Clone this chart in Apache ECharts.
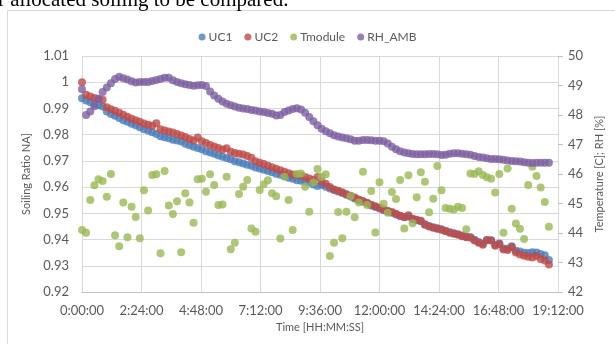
<!DOCTYPE html>
<html>
<head>
<meta charset="utf-8">
<script src="https://cdn.jsdelivr.net/npm/echarts@6/dist/echarts.min.js"></script>
<style>
  html, body { margin: 0; padding: 0; background: #fff; }
  #chart { width: 615px; height: 344px; }
</style>
</head>
<body>
<div id="chart"></div>
<script>
var chartDom = document.getElementById('chart');
var myChart = echarts.init(chartDom);

// 10-minute samples, values
var uc1 = [0.9939,0.9930,0.9924,0.9917,0.9912,0.9907,0.9888,0.9879,0.9872,0.9864,
  0.9855,0.9849,0.9842,0.9836,0.9828,0.9821,0.9816,0.9809,0.9803,0.9794,
  0.9790,0.9786,0.9781,0.9778,0.9774,0.9765,0.9760,0.9754,0.9749,0.9744,
  0.9737,0.9732,0.9727,0.9721,0.9716,0.9711,0.9706,0.9699,0.9695,0.9690,
  0.9685,0.9681,0.9675,0.9671,0.9666,0.9661,0.9657,0.9651,0.9647,0.9642,
  0.9636,0.9632,0.9626,0.9624,0.9621,0.9618,0.9610,0.9604,0.9608,0.9601,
  0.9595,0.9589,0.9583,0.9578,0.9571,0.9564,0.9557,0.9550,0.9544,0.9538,
  0.9530,0.9524,0.9518,0.9512,0.9507,0.9502,0.9496,0.9490,0.9485,0.9488,
  0.9478,0.9474,0.9470,0.9458,0.9452,0.9447,0.9443,0.9439,0.9434,0.9428,
  0.9424,0.9420,0.9415,0.9411,0.9409,0.9399,0.9391,0.9384,0.9398,0.9397,
  0.9380,0.9385,0.9366,0.9365,0.9374,0.9357,0.9354,0.9350,0.9349,0.9352,
  0.9351,0.9345,0.9340,0.9322];
var uc2 = [1.0000,0.9952,0.9946,0.9940,0.9936,0.9933,0.9905,0.9897,0.9891,0.9884,
  0.9876,0.9868,0.9861,0.9855,0.9849,0.9843,0.9838,0.9834,0.9844,0.9821,
  0.9816,0.9812,0.9808,0.9803,0.9797,0.9791,0.9783,0.9778,0.9789,0.9775,
  0.9768,0.9761,0.9755,0.9749,0.9743,0.9748,0.9735,0.9730,0.9727,0.9724,
  0.9719,0.9712,0.9699,0.9693,0.9688,0.9681,0.9676,0.9670,0.9664,0.9659,
  0.9653,0.9648,0.9646,0.9644,0.9639,0.9633,0.9628,0.9639,0.9621,0.9613,
  0.9600,0.9591,0.9586,0.9580,0.9573,0.9567,0.9560,0.9553,0.9547,0.9540,
  0.9533,0.9527,0.9521,0.9515,0.9510,0.9505,0.9498,0.9491,0.9486,0.9493,
  0.9479,0.9476,0.9472,0.9456,0.9450,0.9445,0.9441,0.9437,0.9432,0.9426,
  0.9422,0.9418,0.9413,0.9409,0.9408,0.9396,0.9388,0.9380,0.9397,0.9396,
  0.9376,0.9383,0.9362,0.9360,0.9372,0.9351,0.9343,0.9338,0.9334,0.9332,
  0.9337,0.9326,0.9320,0.9305];
var tmodule = [44.10,44.01,45.12,45.62,45.82,45.76,45.23,46.00,43.92,43.55,
  45.03,43.86,44.89,44.54,43.82,45.45,44.76,45.97,45.99,43.31,
  46.10,44.93,44.64,45.08,43.35,45.35,45.03,44.35,45.82,45.84,
  45.40,45.99,45.63,44.95,44.97,45.91,43.45,43.67,45.32,45.57,
  45.80,44.15,44.04,45.46,45.65,45.79,45.35,45.25,43.81,45.91,
  45.12,44.10,46.00,46.02,45.57,44.72,45.71,46.17,45.91,45.99,
  43.22,43.67,44.71,43.82,44.72,45.25,44.53,45.03,46.08,44.95,
  45.42,44.02,45.72,44.99,44.69,45.39,45.15,45.80,44.15,45.96,
  44.33,45.21,46.06,45.74,44.70,45.16,46.27,45.45,44.85,44.82,
  44.80,44.89,44.85,44.13,46.02,46.00,46.09,45.97,45.89,45.84,
  45.37,46.00,44.01,46.19,44.82,44.32,44.14,43.80,45.63,46.25,
  45.93,45.54,45.05,44.21];
var rhAmb = [48.87,48.00,48.12,48.30,48.55,48.78,48.93,49.08,49.22,49.30,
  49.25,49.20,49.14,49.10,49.12,49.12,49.12,49.15,49.19,49.22,
  49.26,49.26,49.18,49.12,49.08,49.04,49.02,48.99,49.01,49.02,
  48.98,48.80,48.66,48.55,48.46,48.38,48.33,48.29,48.25,48.22,
  48.20,48.17,48.15,48.12,48.10,48.07,48.04,47.98,48.00,48.10,
  48.15,48.20,48.23,48.19,48.08,47.93,47.79,47.65,47.53,47.45,
  47.38,47.31,47.27,47.24,47.21,47.18,47.13,47.13,47.15,47.15,
  47.14,47.13,47.13,47.11,47.03,46.92,46.84,46.77,46.73,46.70,
  46.68,46.67,46.67,46.67,46.68,46.68,46.67,46.64,46.65,46.69,
  46.70,46.70,46.69,46.67,46.65,46.61,46.58,46.56,46.53,46.51,
  46.51,46.50,46.48,46.46,46.44,46.43,46.42,46.40,46.38,46.37,
  46.38,46.38,46.38,46.38];
// minutes since start
var times = uc1.map(function (v, i) { return i * 10; });

var seriesNames = ['UC1', 'UC2', 'Tmodule', 'RH_AMB'];
var colors = ['#4a7ebb', '#be4b48', '#98b954', '#7d60a0'];

function pairs(vals) {
  return vals.map(function (v, i) { return [times[i], v]; });
}
function fmtTime(m) {
  m = Math.round(m);
  var h = Math.floor(m / 60), mm = m % 60;
  return h + ':' + (mm < 10 ? '0' : '') + mm + ':00';
}

var grey = '#595959';
var option = {
  animation: false,
  backgroundColor: '#fff',
  color: colors,
  textStyle: { fontFamily: 'Lato' },
  graphic: [
    {
      type: 'rect',
      shape: { x: 7.5, y: 10.5, width: 640, height: 360 },
      style: { fill: null, stroke: '#d9d9d9', lineWidth: 1 }
    },
    {
      type: 'text',
      x: -2, y: 11,
      style: {
        text: 'r allocated soiling to be compared.',
        font: '21px "Liberation Serif"',
        fill: '#000',
        verticalAlign: 'bottom'
      }
    }
  ],
  legend: {
    top: 26,
    left: 'center',
    icon: 'circle',
    itemWidth: 7,
    itemHeight: 7,
    itemGap: 12,
    textStyle: { color: grey, fontSize: 12, padding: [0, 0, 0, -2] },
    data: seriesNames
  },
  grid: { left: 82, right: 57, top: 56, bottom: 52, containLabel: false },
  xAxis: {
    type: 'value',
    min: 0,
    max: 1152,
    interval: 144,
    name: 'Time [HH:MM:SS]',
    nameLocation: 'middle',
    nameGap: 30,
    nameTextStyle: { color: grey, fontSize: 11 },
    axisLine: { show: true, lineStyle: { color: '#bfbfbf' } },
    axisTick: { show: false },
    axisLabel: { color: grey, fontSize: 13, margin: 12, formatter: fmtTime },
    splitLine: { show: true, lineStyle: { color: '#d9d9d9' } }
  },
  yAxis: [
    {
      type: 'value',
      min: 0.92,
      max: 1.01,
      interval: 0.01,
      name: 'Soiling Ratio NA]',
      nameLocation: 'middle',
      nameGap: 42,
      nameTextStyle: { color: grey, fontSize: 11 },
      axisLine: { show: true, lineStyle: { color: '#d9d9d9' } },
      axisTick: { show: false },
      axisLabel: {
        color: grey, fontSize: 13, margin: 13,
        formatter: function (v) { return String(Math.round(v * 100) / 100); }
      },
      splitLine: { show: true, lineStyle: { color: '#d9d9d9' } }
    },
    {
      type: 'value',
      min: 42,
      max: 50,
      interval: 1,
      position: 'right',
      name: 'Temperature [C]; RH [%]',
      nameLocation: 'middle',
      nameGap: 32,
      nameRotate: 90,
      nameTextStyle: { color: grey, fontSize: 11 },
      axisLine: { show: true, lineStyle: { color: '#d9d9d9' } },
      axisTick: { show: true, length: 5, lineStyle: { color: '#bfbfbf' } },
      axisLabel: { color: grey, fontSize: 13, margin: 10 },
      splitLine: { show: false }
    }
  ],
  series: [
    { name: 'UC1', type: 'scatter', yAxisIndex: 0, symbolSize: 8, data: pairs(uc1) },
    { name: 'UC2', type: 'scatter', yAxisIndex: 0, symbolSize: 8, data: pairs(uc2) },
    { name: 'Tmodule', type: 'scatter', yAxisIndex: 1, symbolSize: 8, data: pairs(tmodule) },
    { name: 'RH_AMB', type: 'scatter', yAxisIndex: 1, symbolSize: 8, data: pairs(rhAmb) }
  ]
};
myChart.setOption(option);
window.addEventListener('resize', function () {
  myChart.resize();
});
</script>
</body>
</html>
